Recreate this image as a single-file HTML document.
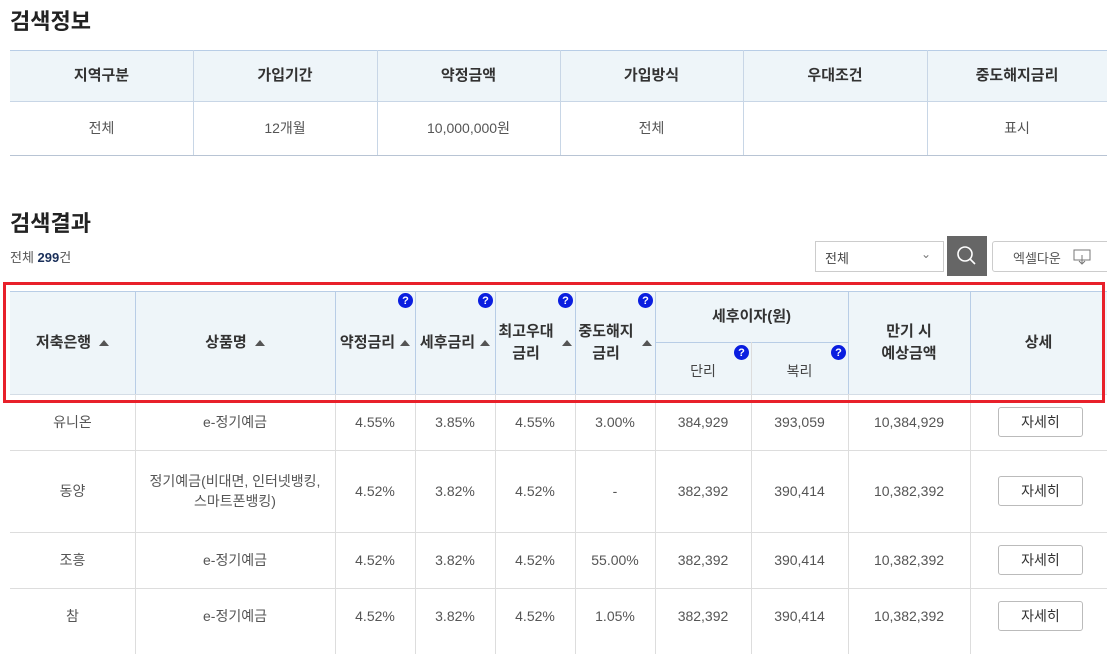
<!DOCTYPE html>
<html><head><meta charset="utf-8">
<style>
*{box-sizing:border-box;margin:0;padding:0}
body{width:1107px;height:638px;overflow:hidden;background:#fff;font-family:"Liberation Sans","Noto Sans CJK KR",sans-serif;position:relative;color:#555}
.a{position:absolute}
.c{position:absolute;display:flex;align-items:center;justify-content:center;text-align:center;line-height:1.45}
.h{font-weight:bold;color:#333;font-size:15px}
.b{font-size:14px;color:#555}
.hl{position:absolute;height:1px}
.vl{position:absolute;width:1px}
.q{position:absolute;width:15px;height:15px;border-radius:50%;background:#0a1ee0;color:#fff;font-size:11px;font-weight:bold;display:flex;align-items:center;justify-content:center}
.tri{display:inline-block;width:0;height:0;border-left:5px solid transparent;border-right:5px solid transparent;border-bottom:6px solid #555;margin-left:8px;vertical-align:middle}
.btn{position:absolute;left:998px;width:85px;height:30px;border:1px solid #bbb;border-radius:3px;background:#fff;color:#333;font-size:14px;display:flex;align-items:center;justify-content:center}
</style></head><body>
<div class="a" style="left:10px;top:4px;font-size:22px;font-weight:bold;color:#222">검색정보</div>

<div class="a" style="left:10px;top:50px;width:1097px;height:51px;background:#eef5f9"></div>
<div class="hl" style="left:10px;top:50px;width:1097px;background:#b8cde6"></div>
<div class="hl" style="left:10px;top:101px;width:1097px;background:#c8d6e6"></div>
<div class="hl" style="left:10px;top:155px;width:1097px;background:#b8c4d4"></div>
<div class="vl" style="left:193px;top:50px;height:105px;background:#c8d6e6"></div>
<div class="vl" style="left:377px;top:50px;height:105px;background:#c8d6e6"></div>
<div class="vl" style="left:560px;top:50px;height:105px;background:#c8d6e6"></div>
<div class="vl" style="left:743px;top:50px;height:105px;background:#c8d6e6"></div>
<div class="vl" style="left:927px;top:50px;height:105px;background:#c8d6e6"></div>
<div class="c h" style="left:10px;top:50px;width:183px;height:51px">지역구분</div>
<div class="c h" style="left:193px;top:50px;width:184px;height:51px">가입기간</div>
<div class="c h" style="left:377px;top:50px;width:183px;height:51px">약정금액</div>
<div class="c h" style="left:560px;top:50px;width:183px;height:51px">가입방식</div>
<div class="c h" style="left:743px;top:50px;width:184px;height:51px">우대조건</div>
<div class="c h" style="left:927px;top:50px;width:180px;height:51px">중도해지금리</div>
<div class="c b" style="left:10px;top:101px;width:183px;height:54px">전체</div>
<div class="c b" style="left:193px;top:101px;width:184px;height:54px">12개월</div>
<div class="c b" style="left:377px;top:101px;width:183px;height:54px">10,000,000원</div>
<div class="c b" style="left:560px;top:101px;width:183px;height:54px">전체</div>
<div class="c b" style="left:927px;top:101px;width:180px;height:54px">표시</div>

<div class="a" style="left:10px;top:206px;font-size:22px;font-weight:bold;color:#222">검색결과</div>
<div class="a" style="left:10px;top:247px;font-size:13px;color:#555">전체 <span style="color:#1a2f5a;font-weight:bold">299</span>건</div>

<div class="a" style="left:815px;top:241px;width:129px;height:31px;border:1px solid #ccc;font-size:13px;color:#444;padding:6px 9px">전체<span style="position:absolute;right:12px;top:5px;color:#777;font-size:12px">&#8964;</span></div>
<div class="a" style="left:947px;top:236px;width:40px;height:40px;background:#666">
<svg width="40" height="40"><circle cx="18" cy="18" r="7" fill="none" stroke="#fff" stroke-width="1.6"/><line x1="23" y1="23" x2="28" y2="28" stroke="#fff" stroke-width="1.6"/></svg></div>
<div class="a" style="left:992px;top:241px;width:120px;height:31px;border:1px solid #ccc;border-radius:3px;font-size:13px;color:#555;padding:6px 0 0 20px">엑셀다운
<svg style="position:absolute;left:80px;top:7px" width="18" height="16"><rect x="1" y="1" width="16" height="10" fill="none" stroke="#777"/><line x1="9" y1="6" x2="9" y2="15" stroke="#777"/><path d="M6 12l3 3 3-3" fill="none" stroke="#777"/></svg></div>

<!-- result table header -->
<div class="a" style="left:10px;top:291px;width:1097px;height:103px;background:#eef5f9"></div>
<div class="hl" style="left:10px;top:291px;width:1097px;background:#b8cde6"></div>
<div class="hl" style="left:655px;top:342px;width:193px;background:#b8cde6"></div>
<div class="hl" style="left:10px;top:394px;width:1097px;background:#d4dde6"></div>
<div class="hl" style="left:10px;top:450px;width:1097px;background:#ddd"></div>
<div class="hl" style="left:10px;top:532px;width:1097px;background:#ddd"></div>
<div class="hl" style="left:10px;top:588px;width:1097px;background:#ddd"></div>
<div id="vlines"></div>
<div class="c h" style="left:10px;top:291px;width:125px;height:103px">저축은행<span class="tri"></span></div>
<div class="c h" style="left:135px;top:291px;width:200px;height:103px">상품명<span class="tri"></span></div>
<div class="c h" style="left:335px;top:291px;width:80px;height:103px;white-space:nowrap">약정금리<span class="tri" style="margin-left:5px"></span></div>
<div class="c h" style="left:415px;top:291px;width:80px;height:103px;white-space:nowrap">세후금리<span class="tri" style="margin-left:5px"></span></div>
<div class="c h" style="left:495px;top:291px;width:80px;height:103px">최고우대<br>금리<span class="tri"></span></div>
<div class="c h" style="left:575px;top:291px;width:80px;height:103px">중도해지<br>금리<span class="tri"></span></div>
<div class="c h" style="left:655px;top:291px;width:193px;height:51px">세후이자(원)</div>
<div class="c" style="left:655px;top:342px;width:96px;height:52px;font-size:14px;color:#444;padding-top:6px">단리</div>
<div class="c" style="left:751px;top:342px;width:97px;height:52px;font-size:14px;color:#444;padding-top:6px">복리</div>
<div class="c h" style="left:848px;top:291px;width:122px;height:103px">만기 시<br>예상금액</div>
<div class="c h" style="left:970px;top:291px;width:137px;height:103px">상세</div>
<div class="q" style="left:398px;top:293px">?</div>
<div class="q" style="left:478px;top:293px">?</div>
<div class="q" style="left:558px;top:293px">?</div>
<div class="q" style="left:638px;top:293px">?</div>
<div class="q" style="left:734px;top:345px">?</div>
<div class="q" style="left:831px;top:345px">?</div>

<div id="rows"></div>

<div class="a" style="left:3px;top:282px;width:1102px;height:121px;border:3px solid #e8202a"></div>

<script>
const colX=[10,135,335,415,495,575,655,751,848,970,1107];
const rowY=[394,450,532,588,650];
const banks=["유니온","동양","조흥","참"];
const products=["e-정기예금","정기예금(비대면, 인터넷뱅킹,<br>스마트폰뱅킹)","e-정기예금","e-정기예금"];
const contractRates=["4.55%","4.52%","4.52%","4.52%"];
const afterTaxRates=["3.85%","3.82%","3.82%","3.82%"];
const maxRates=["4.55%","4.52%","4.52%","4.52%"];
const earlyRates=["3.00%","-","55.00%","1.05%"];
const simpleInt=["384,929","382,392","382,392","382,392"];
const compoundInt=["393,059","390,414","390,414","390,414"];
const maturity=["10,384,929","10,382,392","10,382,392","10,382,392"];
const vl=document.getElementById('vlines');
[135,335,415,495,575,655,848,970].forEach(x=>{
 const d=document.createElement('div');d.className='vl';
 d.style.cssText=`left:${x}px;top:291px;height:103px;background:#b8cde6`;
 
 
 vl.appendChild(d);
 const e=document.createElement('div');e.className='vl';
 e.style.cssText=`left:${x}px;top:394px;height:260px;background:#ddd`;
 
 
 vl.appendChild(e);
});
const dv=document.createElement('div');dv.className='vl';
dv.style.cssText='left:751px;top:342px;height:312px;background:#ddd';


vl.appendChild(dv);
const rows=document.getElementById('rows');
const cols=[banks,products,contractRates,afterTaxRates,maxRates,earlyRates,simpleInt,compoundInt,maturity];
const names=['bank','product','contract-rate','after-tax-rate','max-rate','early-rate','simple-interest','compound-interest','maturity-amount'];
for(let r=0;r<banks.length;r++){
 const y=rowY[r],h=(r<3?rowY[r+1]-rowY[r]:56);
 cols.forEach((arr,i)=>{
  const d=document.createElement('div');d.className='c b';
  d.style.cssText=`left:${colX[i]}px;top:${y}px;width:${colX[i+1]-colX[i]}px;height:${h}px`;
  d.innerHTML=arr[r];
  
  
  rows.appendChild(d);
 });
 const b=document.createElement('div');b.className='btn';
 b.style.top=(y+h/2-15)+'px';
 b.textContent='자세히';
 
 
 rows.appendChild(b);
}
</script>
</body></html>
